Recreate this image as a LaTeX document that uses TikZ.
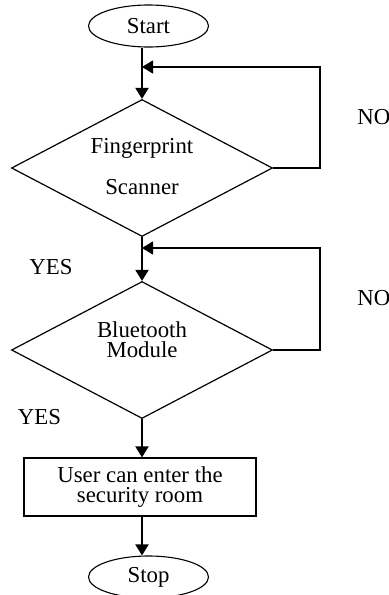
\documentclass[tikz,border=0pt]{standalone}
\usepackage{fontspec}
\setmainfont{Liberation Serif}
\usetikzlibrary{shapes.geometric,arrows.meta}
\begin{document}
\begin{tikzpicture}[x=0.5pt,y=-0.5pt,
  every node/.style={font=\fontsize{11.4}{13}\selectfont},
  term/.style={ellipse,draw,line width=0.55pt,inner sep=0pt,minimum width=60pt,minimum height=21pt},
  decision/.style={diamond,draw,line width=0.6pt,inner sep=0pt,minimum width=130.5pt,minimum height=68.5pt},
  proc/.style={rectangle,draw,line width=0.6pt,inner sep=0pt,minimum width=116pt,minimum height=29pt,align=center},
  flow/.style={line width=1pt,-{Triangle[length=5.5pt,width=6.5pt]}},
  loop/.style={line width=0.75pt,-{Triangle[length=5.5pt,width=6.5pt]}},
  lbl/.style={inner sep=0pt}]
\useasboundingbox (0,0) rectangle (388,595);
\node[term] (start) at (148.5,26) {Start};
\node[decision] (d1) at (142,168) {};
\node[lbl] (t1a) at (142,148) {Fingerprint};
\node[lbl] (t1b) at (142,187) {Scanner};
\node[decision] (d2) at (142,350) {};
\node[lbl,align=center,font=\fontsize{11.4}{10}\selectfont] (t2) at (142,340) {Bluetooth\\Module};
\node[proc,font=\fontsize{11.4}{10}\selectfont] (p) at (140,487) {User can enter the\\security room};
\node[term] (stop) at (148.5,577) {Stop};
\node[lbl,anchor=west] (no1) at (357,117) {NO};
\node[lbl,anchor=west] (no2) at (357,298) {NO};
\node[lbl] (yes1) at (51,267) {YES};
\node[lbl] (yes2) at (39.5,417) {YES};
\coordinate (j1) at (142,67);
\coordinate (j2) at (142,248);
\coordinate (r1) at (320,168);
\coordinate (r2) at (320,350);
\draw[flow] (d1.north |- start.south) -- (d1.north);
\draw[loop] (d1.east) -- (r1) -- (r1 |- j1) -- (j1);
\draw[flow] (d1.south) -- (d2.north);
\draw[loop] (d2.east) -- (r2) -- (r2 |- j2) -- (j2);
\draw[flow] (d2.south) -- (d2.south |- p.north);
\draw[flow] (d2.south |- p.south) -- (d2.south |- stop.north);
\end{tikzpicture}
\end{document}
